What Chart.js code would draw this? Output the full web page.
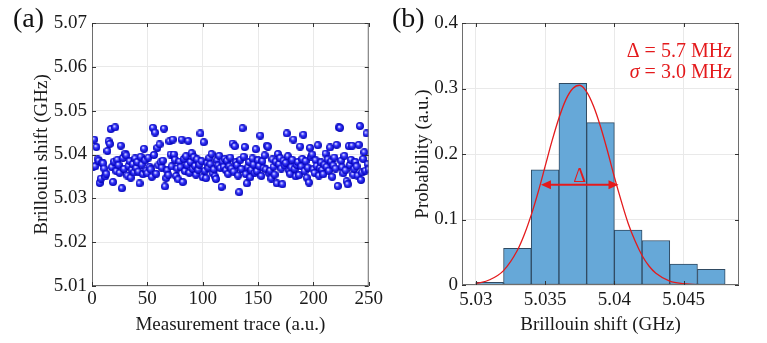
<!DOCTYPE html>
<html>
<head>
<meta charset="utf-8">
<script src="https://cdn.jsdelivr.net/npm/chart.js@4.4.0/dist/chart.umd.min.js"></script>
<style>
  html, body { margin: 0; padding: 0; background: #fff; }
  #wrap { position: relative; width: 767px; height: 343px; overflow: hidden; }
  canvas { position: absolute; top: 0; }
  #ca { left: 0; width: 385px; height: 343px; }
  #cb { left: 385px; width: 382px; height: 343px; }
  .pl { position: absolute; top: 4px; font: 28px 'Liberation Serif', serif; line-height: 28px; color: #111; }
</style>
</head>
<body>
<div id="wrap">
  <canvas id="ca" width="385" height="343"></canvas>
  <canvas id="cb" width="382" height="343"></canvas>
  <div class="pl" style="left:13px">(a)</div>
  <div class="pl" style="left:392px">(b)</div>
</div>
<script>
// (a) Brillouin shift of each measurement trace (GHz), traces 1..250
const brillouinShift = [
  5.0372, 5.0434, 5.0373, 5.0417, 5.0389, 5.0386, 5.0335, 5.0345, 5.0381, 5.0380,
  5.0368, 5.0350, 5.0356, 5.0408, 5.0430, 5.0424, 5.0458, 5.0371, 5.0337, 5.0384,
  5.0462, 5.0362, 5.0388, 5.0376, 5.0358, 5.0420, 5.0323, 5.0392, 5.0367, 5.0402,
  5.0398, 5.0352, 5.0374, 5.0385, 5.0347, 5.0365, 5.0378, 5.0359, 5.0391, 5.0369,
  5.0383, 5.0361, 5.0334, 5.0395, 5.0377, 5.0355, 5.0413, 5.0387, 5.0363, 5.0357,
  5.0393, 5.0372, 5.0366, 5.0349, 5.0461, 5.0399, 5.0450, 5.0356, 5.0415, 5.0375,
  5.0423, 5.0382, 5.0370, 5.0386, 5.0459, 5.0327, 5.0346, 5.0364, 5.0353, 5.0430,
  5.0400, 5.0373, 5.0434, 5.0400, 5.0388, 5.0351, 5.0368, 5.0343, 5.0384, 5.0371,
  5.0434, 5.0337, 5.0390, 5.0362, 5.0396, 5.0376, 5.0431, 5.0358, 5.0383, 5.0403,
  5.0367, 5.0394, 5.0374, 5.0354, 5.0389, 5.0365, 5.0377, 5.0448, 5.0385, 5.0348,
  5.0428, 5.0363, 5.0346, 5.0381, 5.0370, 5.0392, 5.0378, 5.0401, 5.0357, 5.0366,
  5.0350, 5.0344, 5.0387, 5.0375, 5.0397, 5.0369, 5.0326, 5.0384, 5.0372, 5.0390,
  5.0364, 5.0386, 5.0356, 5.0373, 5.0393, 5.0368, 5.0425, 5.0361, 5.0419, 5.0382,
  5.0376, 5.0352, 5.0314, 5.0388, 5.0367, 5.0460, 5.0395, 5.0417, 5.0355, 5.0334,
  5.0371, 5.0383, 5.0348, 5.0365, 5.0391, 5.0377, 5.0358, 5.0412, 5.0362, 5.0387,
  5.0374, 5.0443, 5.0351, 5.0385, 5.0369, 5.0398, 5.0366, 5.0420, 5.0418, 5.0357,
  5.0363, 5.0345, 5.0389, 5.0372, 5.0354, 5.0384, 5.0334, 5.0401, 5.0378, 5.0392,
  5.0368, 5.0332, 5.0386, 5.0375, 5.0381, 5.0448, 5.0396, 5.0364, 5.0356, 5.0371,
  5.0388, 5.0434, 5.0367, 5.0350, 5.0376, 5.0383, 5.0353, 5.0418, 5.0373, 5.0390,
  5.0445, 5.0362, 5.0385, 5.0347, 5.0370, 5.0336, 5.0415, 5.0394, 5.0400, 5.0366,
  5.0358, 5.0387, 5.0374, 5.0421, 5.0352, 5.0369, 5.0382, 5.0365, 5.0355, 5.0377,
  5.0402, 5.0372, 5.0389, 5.0363, 5.0416, 5.0384, 5.0349, 5.0375, 5.0393, 5.0368,
  5.0422, 5.0328, 5.0462, 5.0461, 5.0386, 5.0371, 5.0357, 5.0397, 5.0364, 5.0339,
  5.0332, 5.0419, 5.0376, 5.0388, 5.0420, 5.0354, 5.0367, 5.0383, 5.0373, 5.0352,
  5.0422, 5.0465, 5.0342, 5.0359, 5.0390, 5.0405, 5.0363, 5.0448, 5.0378, 5.0366
];
const xTicksA = [0, 50, 100, 150, 200, 250];
const yTicksA = [5.01, 5.02, 5.03, 5.04, 5.05, 5.06, 5.07];

// (b) histogram
const binEdges = [5.030, 5.032, 5.034, 5.036, 5.038, 5.040, 5.042, 5.044, 5.046, 5.048];
const binProb = [0.004, 0.056, 0.176, 0.308, 0.248, 0.084, 0.068, 0.032, 0.024];
// fitted curve
const fitX = [5.030, 5.031, 5.032, 5.033, 5.0335, 5.034, 5.0345, 5.035, 5.0355, 5.036, 5.0365, 5.037, 5.0375,
              5.038, 5.0385, 5.039, 5.0395, 5.040, 5.0405, 5.041, 5.0415, 5.042, 5.0425, 5.043, 5.044, 5.045, 5.046, 5.047, 5.048];
const fitY = [0.002, 0.008, 0.022, 0.053, 0.077, 0.107, 0.142, 0.181, 0.220, 0.255, 0.283, 0.300, 0.305,
              0.295, 0.273, 0.242, 0.205, 0.165, 0.128, 0.094, 0.067, 0.045, 0.029, 0.018, 0.006, 0.002, 0.0005, 0.0001, 0];
const xTicksB = [5.03, 5.035, 5.04, 5.045];
const yTicksB = [0, 0.1, 0.2, 0.3, 0.4];
const fwhmSpan = [5.0347, 5.0403];   // arrow ends
const fwhmLevel = 0.153;             // arrow height
const statSymbol = ['Δ', 'σ'];
const statText = [' = 5.7 MHz', ' = 3.0 MHz'];

const RED = '#e41a1c';
const FONT = "'Liberation Serif', 'Times New Roman', serif";
Chart.defaults.font.family = FONT;
Chart.defaults.font.size = 19;
Chart.defaults.color = '#1a1a1a';

// little shaded blue ball like the matlab markers
function ball(r) {
  const c = document.createElement('canvas');
  c.width = c.height = 2 * r;
  const g = c.getContext('2d');
  const grad = g.createRadialGradient(r * 0.75, r * 0.7, r * 0.1, r, r, r);
  grad.addColorStop(0, '#e8e8ff');
  grad.addColorStop(0.35, '#3a3aff');
  grad.addColorStop(1, '#0000b4');
  g.fillStyle = grad;
  g.beginPath();
  g.arc(r, r, r, 0, 2 * Math.PI);
  g.fill();
  return c;
}

// box round the plot with inward tick marks on all four sides
const framePlugin = {
  id: 'frame',
  afterDatasetsDraw(chart) {
    const {ctx, chartArea: a, scales: {x, y}} = chart;
    ctx.save();
    ctx.strokeStyle = '#6e6e6e';
    ctx.lineWidth = 1;
    ctx.strokeRect(a.left + 0.5, a.top + 0.5, a.right - a.left - 1, a.bottom - a.top - 1);
    ctx.strokeStyle = '#333';
    ctx.beginPath();
    x.ticks.forEach(t => {
      const px = Math.round(x.getPixelForValue(t.value)) + 0.5;
      ctx.moveTo(px, a.bottom); ctx.lineTo(px, a.bottom - 4);
      ctx.moveTo(px, a.top); ctx.lineTo(px, a.top + 4);
    });
    y.ticks.forEach(t => {
      const py = Math.round(y.getPixelForValue(t.value)) + 0.5;
      ctx.moveTo(a.left, py); ctx.lineTo(a.left + 4, py);
      ctx.moveTo(a.right, py); ctx.lineTo(a.right - 4, py);
    });
    ctx.stroke();
    ctx.restore();
  }
};

// FWHM arrow and the stats text in panel (b)
const annoPlugin = {
  id: 'anno',
  afterDatasetsDraw(chart) {
    const {ctx, chartArea: a, scales: {x, y}} = chart;
    const x1 = x.getPixelForValue(fwhmSpan[0]);
    const x2 = x.getPixelForValue(fwhmSpan[1]);
    const py = y.getPixelForValue(fwhmLevel);
    ctx.save();
    ctx.strokeStyle = RED;
    ctx.fillStyle = RED;
    ctx.lineWidth = 2;
    ctx.beginPath();
    ctx.moveTo(x1 + 6, py); ctx.lineTo(x2 - 6, py);
    ctx.stroke();
    ctx.beginPath();
    ctx.moveTo(x1, py); ctx.lineTo(x1 + 10, py - 4.5); ctx.lineTo(x1 + 10, py + 4.5); ctx.closePath();
    ctx.moveTo(x2, py); ctx.lineTo(x2 - 10, py - 4.5); ctx.lineTo(x2 - 10, py + 4.5); ctx.closePath();
    ctx.fill();
    ctx.font = '20px ' + FONT;
    ctx.textAlign = 'center';
    ctx.textBaseline = 'alphabetic';
    ctx.fillText('Δ', (x1 + x2) / 2, py - 3);

    ctx.textAlign = 'right';
    ctx.textBaseline = 'middle';
    const rx = a.right - 7;
    statText.forEach((s, i) => {
      const ty = a.top + 29 + i * 21;
      ctx.font = '20px ' + FONT;
      ctx.fillText(s, rx, ty);
      const w = ctx.measureText(s).width;
      ctx.font = (i === 1 ? 'italic ' : '') + '20px ' + FONT;
      ctx.fillText(statSymbol[i], rx - w, ty);
    });
    ctx.restore();
  }
};

const gridOpts = {color: '#e9e9e9', drawTicks: false};

// ---- panel (a) ----
new Chart(document.getElementById('ca'), {
  type: 'scatter',
  data: {
    datasets: [{
      data: brillouinShift.map((v, i) => ({x: i + 1, y: v})),
      pointStyle: ball(4),
      pointRadius: 4
    }]
  },
  options: {
    responsive: false,
    animation: false,
    layout: {padding: {top: 23, right: 15, left: 0, bottom: 0}},
    plugins: {legend: {display: false}, tooltip: {enabled: false}},
    scales: {
      x: {
        type: 'linear', min: 0, max: 250,
        grid: gridOpts, border: {display: false},
        afterBuildTicks: s => { s.ticks = xTicksA.map(v => ({value: v})); },
        afterFit: s => { s.height = 57; },
        ticks: {padding: 2, maxRotation: 0, callback: v => String(v)},
        title: {display: true, text: 'Measurement trace (a.u.)', padding: {top: 0, bottom: 7}}
      },
      y: {
        min: 5.01, max: 5.07,
        grid: gridOpts, border: {display: false},
        afterBuildTicks: s => { s.ticks = yTicksA.map(v => ({value: v})); },
        afterFit: s => { s.width = 92; },
        ticks: {padding: 5, callback: v => v.toFixed(2)},
        title: {display: true, text: 'Brillouin shift (GHz)', padding: {top: 31, bottom: 0}}
      }
    }
  },
  plugins: [framePlugin]
});

// ---- panel (b) ----
new Chart(document.getElementById('cb'), {
  type: 'bar',
  data: {
    datasets: [{
      type: 'line',
      order: 0,
      data: fitX.map((v, i) => ({x: v, y: fitY[i]})),
      borderColor: RED,
      borderWidth: 1.3,
      pointRadius: 0,
      cubicInterpolationMode: 'monotone',
      fill: false
    }, {
      type: 'bar',
      order: 1,
      data: binProb.map((p, i) => ({x: (binEdges[i] + binEdges[i + 1]) / 2, y: p})),
      backgroundColor: '#66a8d8',
      borderColor: '#2f4a62',
      borderWidth: 1,
      borderSkipped: false,
      barPercentage: 1,
      categoryPercentage: 1
    }]
  },
  options: {
    responsive: false,
    animation: false,
    layout: {padding: {top: 23, right: 28, left: 0, bottom: 0}},
    plugins: {legend: {display: false}, tooltip: {enabled: false}},
    scales: {
      x: {
        type: 'linear', min: 5.029, max: 5.049, offset: false,
        grid: Object.assign({offset: false}, gridOpts), border: {display: false},
        afterBuildTicks: s => { s.ticks = xTicksB.map(v => ({value: v})); },
        afterFit: s => { s.height = 58; },
        ticks: {padding: 4, maxRotation: 0, callback: v => String(v)},
        title: {display: true, text: 'Brillouin shift (GHz)', padding: {top: 0, bottom: 7}}
      },
      y: {
        min: 0, max: 0.4,
        grid: gridOpts, border: {display: false},
        afterBuildTicks: s => { s.ticks = yTicksB.map(v => ({value: v})); },
        afterFit: s => { s.width = 77; },
        ticks: {padding: 4, callback: v => String(v)},
        title: {display: true, text: 'Probability (a.u.)', padding: {top: 27, bottom: 0}}
      }
    }
  },
  plugins: [framePlugin, annoPlugin]
});
</script>
</body>
</html>
